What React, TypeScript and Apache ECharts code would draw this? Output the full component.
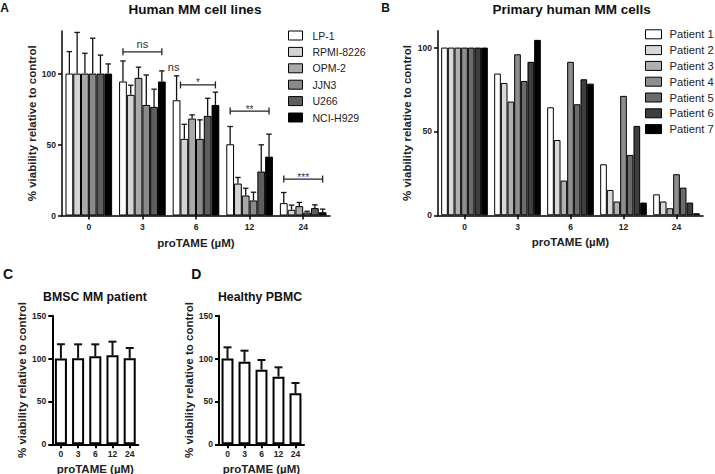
import React, { useEffect, useRef } from "react";
import * as echarts from "echarts";

// ---------- data ----------
const doses = ["0", "3", "6", "12", "24"];

// Panel A: human MM cell lines (mean and SD, % of control)
const cellLines = ["LP-1", "RPMI-8226", "OPM-2", "JJN3", "U266", "NCI-H929"];
const cellLineColors = ["#ffffff", "#d4d4d4", "#a9a9a9", "#8a8a8a", "#5e5e5e", "#000000"];
const lp1Mean = [100, 94.4, 81.2, 50.2, 8.7];
const lp1Sd = [15.5, 14.5, 17.2, 12.5, 7.5];
const rpmiMean = [100, 85, 54, 22.5, 4];
const rpmiSd = [29, 6.8, 10.3, 4.3, 3.3];
const opm2Mean = [100, 97, 68.3, 14.1, 6.6];
const opm2Sd = [14.3, 7.5, 2.6, 5.1, 2.6];
const jjn3Mean = [100, 77.9, 54, 10.6, 2.1];
const jjn3Sd = [24.9, 21.1, 13.4, 5.8, 0.9];
const u266Mean = [100, 76.5, 70.2, 31, 5.2];
const u266Sd = [13, 12.5, 12.4, 18.8, 2.3];
const nciMean = [100, 94.4, 77.9, 41.5, 2.3];
const nciSd = [6.8, 7.5, 9, 15.8, 2.2];
const cellLineMeans = [lp1Mean, rpmiMean, opm2Mean, jjn3Mean, u266Mean, nciMean];
const cellLineSds = [lp1Sd, rpmiSd, opm2Sd, jjn3Sd, u266Sd, nciSd];

// significance annotations in panel A
const sigLabels = ["ns", "*", "**", "***"];
const sigDoseIndex = [1, 2, 3, 4];
const sigLevel = [115.3, 92, 73.6, 25.7];
const sigFromBar = [0, 0.5, 0, 0];
const sigToBar = [5, 5, 5, 5];
const loneLabels = ["ns"];
const loneDoseIndex = [2];
const loneLevel = [101];
const loneBar = [0];

// Panel B: primary human MM cells
const patients = ["Patient 1", "Patient 2", "Patient 3", "Patient 4", "Patient 5", "Patient 6", "Patient 7"];
const patientColors = ["#ffffff", "#d8d8d8", "#b0b0b0", "#8e8e8e", "#6b6b6b", "#3e3e3e", "#000000"];
const patient1 = [100, 84.5, 64.4, 30.4, 12.5];
const patient2 = [100, 78.9, 44.9, 15.1, 8.2];
const patient3 = [100, 67.8, 20.7, 8.2, 4.2];
const patient4 = [100, 96, 91.5, 71.2, 24.5];
const patient5 = [100, 80.1, 66.2, 36, 16.5];
const patient6 = [100, 91.5, 81.1, 53.3, 7.6];
const patient7 = [100, 104.6, 78.5, 7.6, 1.2];
const patientValues = [patient1, patient2, patient3, patient4, patient5, patient6, patient7];

// Panel C: BMSC MM patient ; Panel D: healthy PBMC
const bmscMean = [100, 100.5, 102.6, 103.8, 100.3];
const bmscSd = [16.7, 16.1, 14, 15.9, 12];
const pbmcMean = [100, 96.4, 87, 78.9, 59.5];
const pbmcSd = [13.1, 12.8, 11.3, 10.9, 12];

const yTicksAB = [0, 50, 100];
const yTicksCD = [0, 50, 100, 150];

// ---------- styles ----------
const FONT = "'Liberation Sans', Arial, sans-serif";
const GAP_A = 0.13;
const GAP_B = 0.12;
const GAP_CD = 0.3;

function barOffset(api: any, cat: number, val: number, n: number, gap: number, idx: number) {
  const band = api.size([1, 0])[0];
  const total = band * (1 - gap);
  const bw = total / n;
  const p = api.coord([cat, val]);
  return { x: p[0] - total / 2 + bw * (idx + 0.5), y: p[1], bw };
}

function errorRender(n: number, gap: number, lw: number, capMax: number) {
  return (params: any, api: any) => {
    const cat = api.value(0);
    const mean = api.value(1);
    const top = api.value(2);
    const s = api.value(3);
    const b = barOffset(api, cat, mean, n, gap, s);
    const t = api.coord([cat, top]);
    const half = Math.min(b.bw * 0.35, capMax);
    const st = { stroke: "#111", lineWidth: lw };
    return {
      type: "group",
      children: [
        { type: "line", shape: { x1: b.x, y1: b.y, x2: b.x, y2: t[1] }, style: st },
        { type: "line", shape: { x1: b.x - half, y1: t[1], x2: b.x + half, y2: t[1] }, style: st },
      ],
    };
  };
}

function errorData(means: number[][], sds: number[][]) {
  const out: number[][] = [];
  means.forEach((m, s) => {
    m.forEach((v, d) => out.push([d, v, v + sds[s][d], s]));
  });
  return out;
}

const axisLabelStyle = { fontFamily: FONT, fontWeight: "bold" as const, fontSize: 8.5, color: "#222" };
const axisNameStyle = { fontFamily: FONT, fontWeight: "bold" as const, fontSize: 11.5, color: "#222" };

function makeXAxis(gridIndex: number, lw: number, margin: number, nameGap: number) {
  return {
    type: "category",
    gridIndex,
    data: doses,
    name: "proTAME (µM)",
    nameLocation: "middle",
    nameGap,
    nameTextStyle: axisNameStyle,
    axisLine: { show: true, lineStyle: { color: "#000", width: lw } },
    axisTick: { show: true, alignWithLabel: true, length: 4, lineStyle: { color: "#000", width: lw } },
    axisLabel: { ...axisLabelStyle, margin },
    splitLine: { show: false },
  };
}

function makeYAxis(gridIndex: number, max: number, ticks: number[], lw: number, nameGap: number) {
  return {
    type: "value",
    gridIndex,
    min: 0,
    max,
    interval: 50,
    name: "% viability relative to control",
    nameLocation: "middle",
    nameGap,
    nameTextStyle: axisNameStyle,
    axisLine: { show: true, lineStyle: { color: "#000", width: lw } },
    axisTick: { show: true, length: 4, customValues: ticks, lineStyle: { color: "#000", width: lw } },
    axisLabel: { ...axisLabelStyle, margin: 6, customValues: ticks },
    splitLine: { show: false },
  };
}

export default function App() {
  const ref = useRef<HTMLDivElement>(null);

  useEffect(() => {
    if (!ref.current) return;
    const chart = echarts.init(ref.current, null, { renderer: "svg" });

    const seriesA = cellLines.map((name, i) => ({
      name,
      type: "bar",
      xAxisIndex: 0,
      yAxisIndex: 0,
      data: cellLineMeans[i],
      barGap: "0%",
      barCategoryGap: `${GAP_A * 100}%`,
      itemStyle: { color: cellLineColors[i], borderColor: "#000", borderWidth: 1 },
      silent: true,
    }));

    const seriesB = patients.map((name, i) => ({
      name,
      type: "bar",
      xAxisIndex: 1,
      yAxisIndex: 1,
      data: patientValues[i],
      barGap: "0%",
      barCategoryGap: `${GAP_B * 100}%`,
      itemStyle: { color: patientColors[i], borderColor: "#000", borderWidth: 1 },
      silent: true,
    }));

    const bracketData = sigLabels.map((_, i) => [sigDoseIndex[i], sigLevel[i], sigFromBar[i], sigToBar[i]]);
    const loneData = loneLabels.map((_, i) => [loneDoseIndex[i], loneLevel[i], loneBar[i]]);

    const option: any = {
      animation: false,
      backgroundColor: "#ffffff",
      grid: [
        { left: 62, top: 31, width: 268, height: 184.5, outerBoundsMode: "none" },
        { left: 438, top: 30.8, width: 265, height: 184.5, outerBoundsMode: "none" },
        { left: 52.3, top: 315.7, width: 86, height: 128.6, outerBoundsMode: "none" },
        { left: 219, top: 315.7, width: 85, height: 128.6, outerBoundsMode: "none" },
      ],
      xAxis: [
        makeXAxis(0, 1.5, 7, 21),
        makeXAxis(1, 1.5, 7, 21),
        makeXAxis(2, 2, 5, 18.5),
        makeXAxis(3, 2, 5, 18.5),
      ],
      yAxis: [
        makeYAxis(0, 130, yTicksAB, 1.5, 24),
        makeYAxis(1, 110, yTicksAB, 1.5, 25),
        makeYAxis(2, 150, yTicksCD, 2, 22),
        makeYAxis(3, 150, yTicksCD, 2, 23),
      ],
      legend: [
        {
          data: cellLines,
          orient: "vertical",
          left: 288,
          top: 30,
          padding: 0,
          width: 90,
          itemWidth: 14,
          itemHeight: 9,
          itemGap: 5.4,
          icon: "rect",
          selectedMode: false,
          itemStyle: { borderColor: "#000", borderWidth: 1 },
          textStyle: { fontFamily: FONT, fontSize: 10.5, color: "#222", padding: [0, 0, 0, 5], overflow: "none" },
        },
        {
          data: patients,
          orient: "vertical",
          left: 645,
          top: 28.8,
          padding: 0,
          width: 70,
          itemWidth: 16,
          itemHeight: 9,
          itemGap: 4.8,
          icon: "rect",
          selectedMode: false,
          itemStyle: { borderColor: "#000", borderWidth: 1 },
          textStyle: { fontFamily: FONT, fontSize: 11.2, color: "#222", padding: [0, 0, 0, 3], overflow: "none" },
        },
      ],
      graphic: [
        { type: "text", x: 4.7, y: 7.5, style: { text: "A", fontFamily: FONT, fontWeight: "bold", fontSize: 12, fill: "#111", align: "center", verticalAlign: "middle" } },
        { type: "text", x: 385.5, y: 7.5, style: { text: "B", fontFamily: FONT, fontWeight: "bold", fontSize: 12, fill: "#111", align: "center", verticalAlign: "middle" } },
        { type: "text", x: 8, y: 273.7, style: { text: "C", fontFamily: FONT, fontWeight: "bold", fontSize: 14, fill: "#111", align: "center", verticalAlign: "middle" } },
        { type: "text", x: 196.3, y: 273.7, style: { text: "D", fontFamily: FONT, fontWeight: "bold", fontSize: 14, fill: "#111", align: "center", verticalAlign: "middle" } },
        { type: "text", x: 195, y: 9.5, style: { text: "Human MM cell lines", fontFamily: FONT, fontWeight: "bold", fontSize: 13.5, fill: "#111", align: "center", verticalAlign: "middle" } },
        { type: "text", x: 571.7, y: 9.3, style: { text: "Primary human MM cells", fontFamily: FONT, fontWeight: "bold", fontSize: 13.5, fill: "#111", align: "center", verticalAlign: "middle" } },
        { type: "text", x: 95, y: 296.7, style: { text: "BMSC MM patient", fontFamily: FONT, fontWeight: "bold", fontSize: 12.3, fill: "#111", align: "center", verticalAlign: "middle" } },
        { type: "text", x: 260, y: 296.7, style: { text: "Healthy PBMC", fontFamily: FONT, fontWeight: "bold", fontSize: 12.3, fill: "#111", align: "center", verticalAlign: "middle" } },
      ],
      series: [
        ...seriesA,
        {
          type: "custom",
          name: "errA",
          xAxisIndex: 0,
          yAxisIndex: 0,
          data: errorData(cellLineMeans, cellLineSds),
          renderItem: errorRender(6, GAP_A, 1.3, 2.8),
          clip: false,
          silent: true,
          z: 3,
        },
        {
          type: "custom",
          name: "sig",
          xAxisIndex: 0,
          yAxisIndex: 0,
          data: bracketData,
          clip: false,
          silent: true,
          z: 3,
          renderItem: (params: any, api: any) => {
            const i = params.dataIndex;
            const cat = api.value(0);
            const lvl = api.value(1);
            const a = barOffset(api, cat, lvl, 6, GAP_A, api.value(2));
            const b = barOffset(api, cat, lvl, 6, GAP_A, api.value(3));
            const y = a.y;
            const label = sigLabels[i];
            const star = label[0] === "*";
            const st = { stroke: "#222", lineWidth: 1.3 };
            return {
              type: "group",
              children: [
                { type: "line", shape: { x1: a.x, y1: y, x2: b.x, y2: y }, style: st },
                { type: "line", shape: { x1: a.x, y1: y - 3.5, x2: a.x, y2: y + 3.5 }, style: st },
                { type: "line", shape: { x1: b.x, y1: y - 3.5, x2: b.x, y2: y + 3.5 }, style: st },
                {
                  type: "text",
                  x: (a.x + b.x) / 2,
                  y: star ? y + 3 : y - 2,
                  style: {
                    text: label,
                    fontFamily: FONT,
                    fontSize: star ? 10 : 11,
                    fill: "#333",
                    align: "center",
                    verticalAlign: "bottom",
                  },
                },
              ],
            };
          },
        },
        {
          type: "custom",
          name: "lone",
          xAxisIndex: 0,
          yAxisIndex: 0,
          data: loneData,
          clip: false,
          silent: true,
          z: 3,
          renderItem: (params: any, api: any) => {
            const i = params.dataIndex;
            const p = barOffset(api, api.value(0), api.value(1), 6, GAP_A, api.value(2));
            return {
              type: "text",
              x: p.x - 3,
              y: p.y,
              style: {
                text: loneLabels[i],
                fontFamily: FONT,
                fontSize: 11,
                fill: "#333",
                align: "center",
                verticalAlign: "bottom",
              },
            };
          },
        },
        ...seriesB,
        {
          name: "BMSC MM patient",
          type: "bar",
          xAxisIndex: 2,
          yAxisIndex: 2,
          data: bmscMean,
          barCategoryGap: `${GAP_CD * 100}%`,
          itemStyle: { color: "#ffffff", borderColor: "#000", borderWidth: 2 },
          silent: true,
        },
        {
          type: "custom",
          name: "errC",
          xAxisIndex: 2,
          yAxisIndex: 2,
          data: errorData([bmscMean], [bmscSd]),
          renderItem: errorRender(1, GAP_CD, 2, 4),
          clip: false,
          silent: true,
          z: 3,
        },
        {
          name: "Healthy PBMC",
          type: "bar",
          xAxisIndex: 3,
          yAxisIndex: 3,
          data: pbmcMean,
          barCategoryGap: `${GAP_CD * 100}%`,
          itemStyle: { color: "#ffffff", borderColor: "#000", borderWidth: 2 },
          silent: true,
        },
        {
          type: "custom",
          name: "errD",
          xAxisIndex: 3,
          yAxisIndex: 3,
          data: errorData([pbmcMean], [pbmcSd]),
          renderItem: errorRender(1, GAP_CD, 2, 4),
          clip: false,
          silent: true,
          z: 3,
        },
      ],
    };

    chart.setOption(option);
    return () => chart.dispose();
  }, []);

  return (
    <div
      ref={ref}
      style={{ position: "fixed", left: 0, top: 0, width: 715, height: 474, background: "#fff" }}
    />
  );
}
